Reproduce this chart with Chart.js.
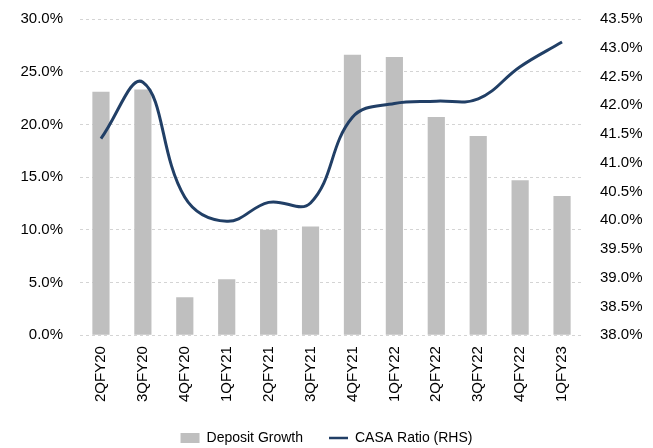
<!DOCTYPE html>
<html lang="en">
<head>
  <meta charset="UTF-8" />
  <title>Deposit Growth vs CASA Ratio</title>
  <script src="https://cdn.jsdelivr.net/npm/chart.js"></script>
  <style>
    html, body { margin: 0; padding: 0; background: #fff; }
    #wrap { width: 653px; height: 448px; }
  </style>
</head>
<body>
  <div id="wrap"><canvas id="grafico"></canvas></div>

  <script>
    // data
    const quarters = ['2QFY20', '3QFY20', '4QFY20', '1QFY21', '2QFY21', '3QFY21',
                      '4QFY21', '1QFY22', '2QFY22', '3QFY22', '4QFY22', '1QFY23'];
    const depositGrowth = [23.1, 23.3, 3.6, 5.3, 10.0, 10.3, 26.6, 26.4, 20.7, 18.9, 14.7, 13.2];
    const casaRatio = [41.42, 42.40, 40.40, 39.98, 40.31, 40.30, 41.79, 42.03, 42.07, 42.11, 42.67, 43.10];

    const leftTicks = { min: 0, max: 30, step: 5 };
    const rightTicks = { min: 38, max: 43.5, step: 0.5 };

    const tickFont = { family: '"Liberation Sans", Arial, sans-serif', size: 15 };

    let ctx = document.getElementById('grafico').getContext('2d');
    let grafico = new Chart(ctx, {
      data: {
        labels: quarters,
        datasets: [
          {
            type: 'line',
            label: 'CASA Ratio (RHS)',
            data: casaRatio,
            yAxisID: 'y2',
            borderColor: '#213f66',
            backgroundColor: '#213f66',
            borderWidth: 3,
            pointRadius: 0,
            tension: 0.4,
            order: 0
          },
          {
            type: 'bar',
            label: 'Deposit Growth',
            data: depositGrowth,
            yAxisID: 'y',
            backgroundColor: '#bfbfbf',
            categoryPercentage: 1,
            barPercentage: 0.41,
            order: 1
          }
        ]
      },
      options: {
        responsive: true,
        maintainAspectRatio: false,
        animation: false,
        layout: { padding: { left: 0, right: 0, top: 19, bottom: -7 } },
        plugins: {
          tooltip: { enabled: false },
          legend: {
            position: 'bottom',
            reverse: true,
            labels: {
              color: '#000',
              font: { family: '"Liberation Sans", Arial, sans-serif', size: 14 },
              usePointStyle: true,
              pointStyleWidth: 19,
              boxHeight: 10,
              padding: 26,
              generateLabels(chart) {
                return chart.data.datasets.map((ds, i) => ({
                  text: ds.label,
                  datasetIndex: i,
                  fillStyle: ds.type === 'bar' ? '#bfbfbf' : '#213f66',
                  strokeStyle: ds.type === 'bar' ? '#bfbfbf' : '#213f66',
                  lineWidth: ds.type === 'bar' ? 0 : 2.5,
                  pointStyle: ds.type === 'bar' ? 'rect' : 'line',
                  fontColor: '#000'
                }));
              }
            }
          }
        },
        scales: {
          x: {
            offset: true,
            border: { display: false },
            grid: { display: false },
            ticks: {
              color: '#000',
              font: tickFont,
              maxRotation: 90,
              minRotation: 90,
              padding: 3,
              autoSkip: false
            }
          },
          y: {
            position: 'left',
            min: leftTicks.min,
            max: leftTicks.max,
            border: { display: false, dash: [3, 3] },
            grid: { color: '#d4d4d4', lineWidth: 1, drawTicks: false },
            ticks: {
              stepSize: leftTicks.step,
              color: '#000',
              font: tickFont,
              padding: 17,
              callback: v => v.toFixed(1) + '%'
            },
            afterFit(s) { s.width = 80; s.paddingTop = 0; s.paddingBottom = 0; }
          },
          y2: {
            position: 'right',
            min: rightTicks.min,
            max: rightTicks.max,
            border: { display: false },
            grid: { display: false, drawTicks: false },
            ticks: {
              stepSize: rightTicks.step,
              color: '#000',
              font: tickFont,
              padding: 17,
              callback: v => v.toFixed(1) + '%'
            },
            afterFit(s) { s.width = 70; s.paddingTop = 0; s.paddingBottom = 0; }
          }
        }
      }
    });
  </script>
</body>
</html>
